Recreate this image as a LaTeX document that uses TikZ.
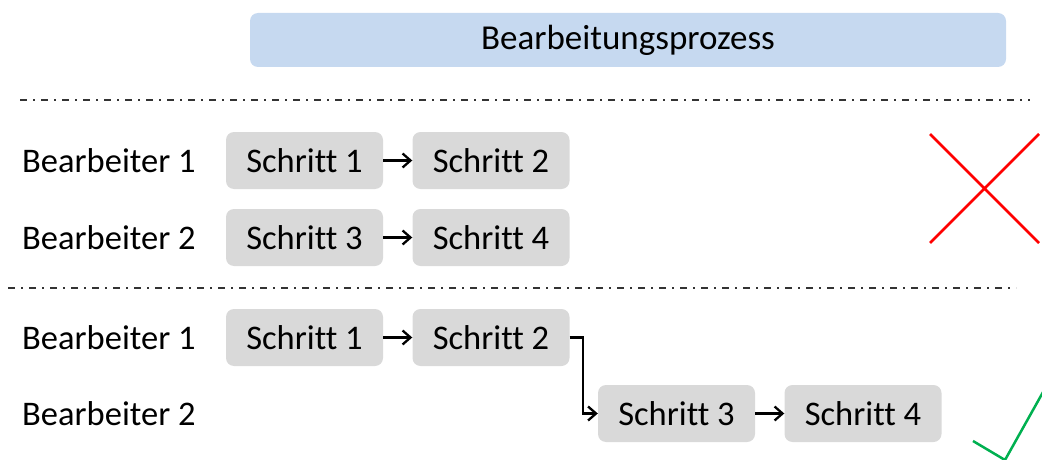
\documentclass[tikz,border=0pt]{standalone}
\usepackage{fontspec}
\setmainfont[Ligatures={NoCommon}]{Carlito}
\usetikzlibrary{arrows.meta}
\definecolor{headblue}{RGB}{198,217,240}
\definecolor{stepgray}{RGB}{217,217,217}
\definecolor{okgreen}{RGB}{0,176,80}
\tikzset{
  stepbox/.style={fill=stepgray, rounded corners=8pt, minimum width=157pt, minimum height=57pt, inner sep=0pt, font=\fontsize{34.5}{40}\selectfont},
  worker/.style={anchor=west, inner sep=0pt, font=\fontsize{34.5}{40}\selectfont},
  flow/.style={line width=2.3pt, -{Straight Barb[length=8pt,width=14pt,line width=2.3pt]}},
  separator/.style={line width=2pt, draw=black!80, dash pattern=on 7pt off 6pt on 2pt off 6pt},
}
\begin{document}
\begin{tikzpicture}[x=1pt,y=-1pt]
\useasboundingbox (0,0) rectangle (1042,460);
\clip (0,0) rectangle (1042,460);

% header bar
\node[fill=headblue, rounded corners=8pt, minimum width=756pt, minimum height=54pt, inner sep=0pt,
      font=\fontsize{35}{40}\selectfont] (head) at (628,40) {Bearbeitungsprozess};

% separators
\coordinate (s1a) at (20,100);  \coordinate (s1b) at (1030,100);
\coordinate (s2a) at (8,288);   \coordinate (s2b) at (1016,288);
\draw[separator] (s1a) -- (s1b);
\draw[separator] (s2a) -- (s2b);

% parallel processing
\node[worker] (w1a) at (22,161) {Bearbeiter 1};
\node[worker] (w2a) at (22,238) {Bearbeiter 2};
\node[stepbox] (a1) at (304.5,160.5) {Schritt 1};
\node[stepbox] (a2) at (491,160.5) {Schritt 2};
\node[stepbox] (a3) at (304.5,237.5) {Schritt 3};
\node[stepbox] (a4) at (491,237.5) {Schritt 4};
\draw[flow] (a1) -- (a2);
\draw[flow] (a3) -- (a4);

% red cross
\coordinate (x1) at (930,134); \coordinate (x2) at (1039,243);
\coordinate (x3) at (930,243); \coordinate (x4) at (1039,134);
\draw[red, line width=2.5pt] (x1) -- (x2) (x3) -- (x4);

% sequential processing
\node[worker] (w1b) at (22,338) {Bearbeiter 1};
\node[worker] (w2b) at (22,414) {Bearbeiter 2};
\node[stepbox] (b1) at (304.5,337.5) {Schritt 1};
\node[stepbox] (b2) at (491,337.5) {Schritt 2};
\node[stepbox] (b3) at (676.5,413.5) {Schritt 3};
\node[stepbox] (b4) at (863,413.5) {Schritt 4};
\draw[flow] (b1) -- (b2);
\draw[flow] (b2.east) -- ++(13,0) |- (b3.west);
\draw[flow] (b3) -- (b4);

% green tick
\coordinate (t1) at (973,441); \coordinate (t2) at (1005,460); \coordinate (t3) at (1047,385);
\draw[okgreen, line width=2.5pt] (t1) -- (t2) -- (t3);
\end{tikzpicture}
\end{document}
